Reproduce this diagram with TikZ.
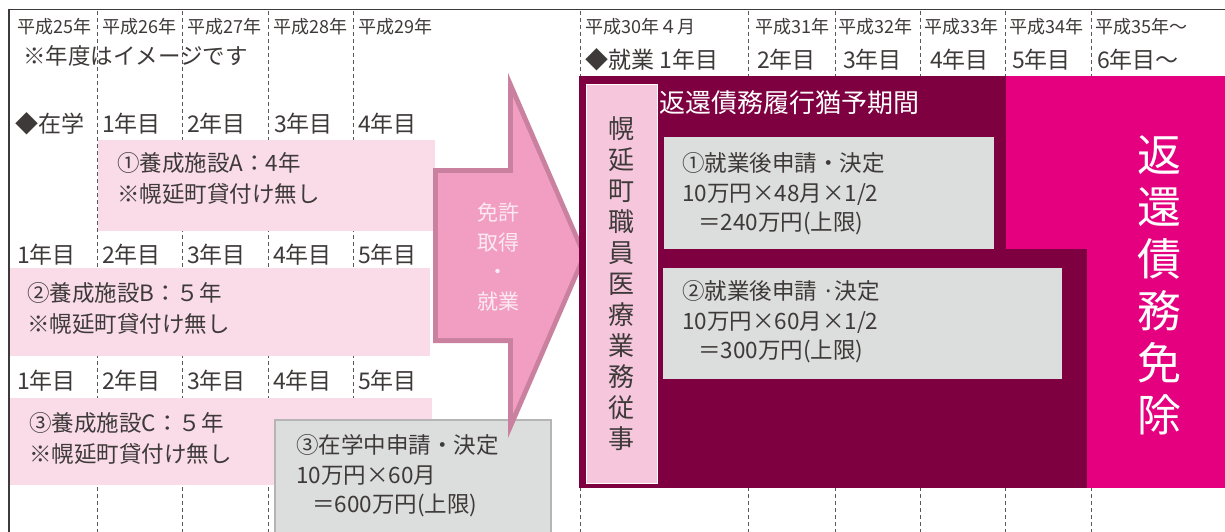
\documentclass[tikz,border=0pt]{standalone}
\usepackage{fontspec}
\setmainfont{Noto Sans CJK JP}
\definecolor{txt}{HTML}{3E3A39}
\definecolor{maroonc}{HTML}{7F0040}
\definecolor{hotpink}{HTML}{E4007F}
\definecolor{lpink}{HTML}{FADCE9}
\definecolor{ipink}{HTML}{F6C7DC}
\definecolor{apink}{HTML}{F19EC2}
\definecolor{aedge}{HTML}{C9819F}
\definecolor{gfill}{HTML}{DCDDDD}
\definecolor{gedge}{HTML}{B5B5B6}
\definecolor{dashc}{HTML}{595757}
\definecolor{atext}{HTML}{FCEAF2}
\begin{document}
\begin{tikzpicture}[x=1pt,y=-1pt,
  every node/.style={inner sep=0pt, text=txt},
  yr/.style={anchor=west, font=\fontsize{18}{20}\selectfont},
  lbl/.style={anchor=west, font=\fontsize{23}{26}\selectfont},
  boxtxt/.style={anchor=west, align=left, font=\fontsize{22.5}{31}\selectfont},
  gtxt/.style={anchor=west, align=left, font=\fontsize{22.5}{29.5}\selectfont},
  gridline/.style={dashc, line width=0.9pt, dash pattern=on 4pt off 3pt},
]
\useasboundingbox (0,0) rectangle (1225,532);
\fill[white] (0,0) rectangle (1225,532);
% dashed grid
\foreach \x in {97,182,268,353,580,748,835,920,1005,1091}
  \draw[gridline] (\x,11) -- (\x,532);
% frame
\draw[txt, line width=1.5pt] (9,532) -- (9,9.5) -- (1225,9.5);
% header left
\node[yr] (h25) at (17,27) {平成25年};
\node[yr] (h26) at (102,27) {平成26年};
\node[yr] (h27) at (187,27) {平成27年};
\node[yr] (h28) at (273,27) {平成28年};
\node[yr] (h29) at (358,27) {平成29年};
\node[lbl, font=\fontsize{22.5}{26}\selectfont] (note) at (23,56) {※年度はイメージです};
% header right
\node[yr] (h30) at (585,27) {平成30年４月};
\node[yr] (h31) at (755,27) {平成31年};
\node[yr] (h32) at (838,27) {平成32年};
\node[yr] (h33) at (924,27) {平成33年};
\node[yr] (h34) at (1009,27) {平成34年};
\node[yr] (h35) at (1095,27) {平成35年〜};
\node[lbl] (w1) at (585,60) {◆就業 1年目};
\node[lbl] (w2) at (757,60) {2年目};
\node[lbl] (w3) at (843,60) {3年目};
\node[lbl] (w4) at (930,60) {4年目};
\node[lbl] (w5) at (1012,60) {5年目};
\node[lbl] (w6) at (1097,60) {6年目〜};
% row 1 labels
\node[lbl] (s0) at (15,124) {◆在学};
\node[lbl] (s1) at (102,124) {1年目};
\node[lbl] (s2) at (187,124) {2年目};
\node[lbl] (s3) at (274,124) {3年目};
\node[lbl] (s4) at (358,124) {4年目};
% row 2 labels
\node[lbl] (b1) at (17,255) {1年目};
\node[lbl] (b2) at (102,255) {2年目};
\node[lbl] (b3) at (187,255) {3年目};
\node[lbl] (b4) at (273,255) {4年目};
\node[lbl] (b5) at (358,255) {5年目};
% row 3 labels
\node[lbl] (c1) at (17,381) {1年目};
\node[lbl] (c2) at (102,381) {2年目};
\node[lbl] (c3) at (187,381) {3年目};
\node[lbl] (c4) at (273,381) {4年目};
\node[lbl] (c5) at (358,381) {5年目};
% pink boxes
\fill[lpink] (98,140) rectangle (435,231);
\node[boxtxt] (pa) at (117,178) {①養成施設A：4年\\※幌延町貸付け無し};
\fill[lpink] (10,268) rectangle (430,356);
\node[boxtxt] (pb) at (27,308) {②養成施設B：５年\\※幌延町貸付け無し};
\fill[lpink] (10,398) rectangle (432,485);
\node[boxtxt] (pc) at (29,438) {③養成施設C：５年\\※幌延町貸付け無し};
% gray box 3
\filldraw[fill=gfill, draw=gedge, line width=1.3pt] (275,420) rectangle (551,545);
\node[gtxt] (g3) at (296,476) {③在学中申請・決定\\10万円×60月\\\hspace*{16pt}＝600万円(上限)};
% arrow
\fill[aedge] (433,168) -- (508,168) -- (508,73) -- (587,255.5) -- (508,438) -- (508,343) -- (433,343) -- cycle;
\fill[apink] (438,173) -- (513,173) -- (513,97) -- (581.8,255.5) -- (513,414) -- (513,338) -- (438,338) -- cycle;
\node[align=center, text=atext, font=\fontsize{21}{29.5}\selectfont] (atx) at (498,257) {免許\\取得\\・\\就業};
% maroon area
\fill[maroonc] (579,76) rectangle (1087,488);
\fill[hotpink] (1006,76) rectangle (1225,249);
\fill[hotpink] (1087,76) rectangle (1225,488);
% inner pink vertical box
\filldraw[fill=ipink, draw=white, line width=1pt] (586,85) rectangle (657,483);
\node[align=center, font=\fontsize{26}{31}\selectfont] (vt) at (621,284) {幌\\延\\町\\職\\員\\医\\療\\業\\務\\従\\事};
\node[anchor=west, text=white, font=\fontsize{26}{30}\selectfont] (ttl) at (659,103) {返還債務履行猶予期間};
% gray boxes 1, 2
\fill[gfill] (664,137) rectangle (994,249);
\node[gtxt] (g1) at (682,194) {①就業後申請・決定\\10万円×48月×1/2\\\hspace*{16pt}＝240万円(上限)};
\fill[gfill] (663,268) rectangle (1062,379);
\node[gtxt] (g2) at (682,322) {②就業後申請 ·決定\\10万円×60月×1/2\\\hspace*{16pt}＝300万円(上限)};
% exemption text
\node[align=center, text=white, font=\fontsize{44}{52}\selectfont] (ex) at (1159,285) {返\\還\\債\\務\\免\\除};
\end{tikzpicture}
\end{document}
